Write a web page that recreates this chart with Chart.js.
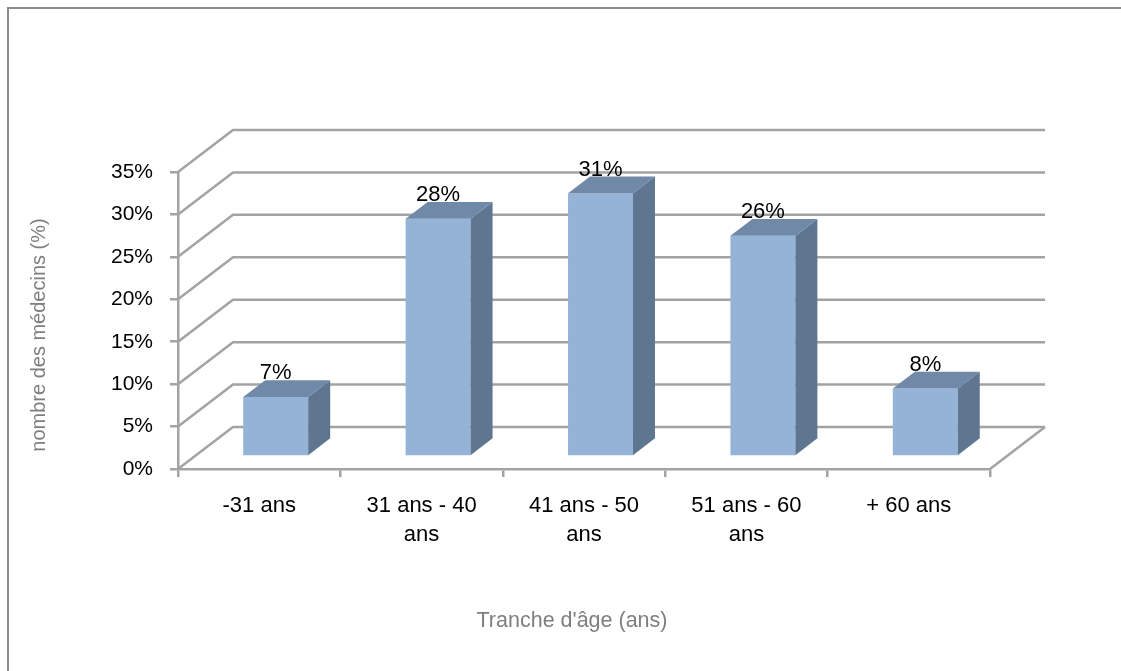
<!DOCTYPE html>
<html>
<head>
<meta charset="utf-8">
<script src="https://cdn.jsdelivr.net/npm/chart.js@4"></script>
<style>
  html, body { margin: 0; padding: 0; background: #ffffff; }
  canvas { display: block; }
</style>
</head>
<body>
<canvas id="chart" width="1121" height="671"></canvas>
<script>
// Age groups (wrapped the way they are printed under the axis)
const categories = [
  '-31 ans',
  ['31 ans - 40', 'ans'],
  ['41 ans - 50', 'ans'],
  ['51 ans - 60', 'ans'],
  '+ 60 ans'
];
// Share of doctors per age group, in percent
const values = [7, 28, 31, 26, 8];
// Value axis ticks, in percent
const yTicks = [0, 5, 10, 15, 20, 25, 30, 35];

const yTitle = 'nombre des médecins (%)';
const xTitle = "Tranche d'âge (ans)";

const FONT = '"Liberation Sans", Arial, sans-serif';
const GRID = '#a3a3a3';
const FRONT = '#95b3d7';
const TOP = '#7189a9';
const SIDE = '#5f7691';

// oblique projection of the back wall
const DEPTH = { dx: 55, dy: -42 };
const BAR_FRONT = 0.3;   // bars sit between 30% and 70% of the depth
const BAR_BACK = 0.7;

const box3d = {
  id: 'box3d',
  beforeDraw(chart) {
    const { ctx } = chart;
    ctx.save();
    ctx.fillStyle = '#ffffff';
    ctx.fillRect(0, 0, chart.width, chart.height);
    // frame around the chart
    ctx.strokeStyle = '#8c8c8c';
    ctx.lineWidth = 2;
    ctx.beginPath();
    ctx.moveTo(8, chart.height);
    ctx.lineTo(8, 8);
    ctx.lineTo(chart.width, 8);
    ctx.stroke();
    ctx.restore();
  },
  beforeDatasetsDraw(chart) {
    const { ctx, chartArea: a, scales: { y } } = chart;
    ctx.save();
    ctx.strokeStyle = GRID;
    ctx.lineWidth = 2.5;
    ctx.lineJoin = 'round';
    y.ticks.forEach(t => {
      const py = y.getPixelForValue(t.value);
      ctx.beginPath();
      ctx.moveTo(a.left, py);
      ctx.lineTo(a.left + DEPTH.dx, py + DEPTH.dy);
      ctx.lineTo(a.right + DEPTH.dx, py + DEPTH.dy);
      ctx.stroke();
    });
    // right edge of the floor
    ctx.beginPath();
    ctx.moveTo(a.right, a.bottom);
    ctx.lineTo(a.right + DEPTH.dx, a.bottom + DEPTH.dy);
    ctx.stroke();
    ctx.restore();
  },
  beforeDatasetDraw(chart) {
    chart.ctx.save();
    chart.ctx.translate(DEPTH.dx * BAR_FRONT, DEPTH.dy * BAR_FRONT);
  },
  afterDatasetDraw(chart) {
    chart.ctx.restore();
  },
  afterDatasetsDraw(chart) {
    const { ctx } = chart;
    const ox = DEPTH.dx * BAR_FRONT, oy = DEPTH.dy * BAR_FRONT;
    const bx = DEPTH.dx * (BAR_BACK - BAR_FRONT), by = DEPTH.dy * (BAR_BACK - BAR_FRONT);
    const meta = chart.getDatasetMeta(0);
    ctx.save();
    meta.data.forEach((bar, i) => {
      const p = bar.getProps(['x', 'y', 'base', 'width'], true);
      const l = p.x - p.width / 2 + ox, r = p.x + p.width / 2 + ox;
      const t = p.y + oy, b = p.base + oy;
      // side face
      ctx.fillStyle = SIDE;
      ctx.beginPath();
      ctx.moveTo(r, t);
      ctx.lineTo(r + bx, t + by);
      ctx.lineTo(r + bx, b + by);
      ctx.lineTo(r, b);
      ctx.closePath();
      ctx.fill();
      // top face
      ctx.fillStyle = TOP;
      ctx.beginPath();
      ctx.moveTo(l, t);
      ctx.lineTo(l + bx, t + by);
      ctx.lineTo(r + bx, t + by);
      ctx.lineTo(r, t);
      ctx.closePath();
      ctx.fill();
      // value label
      ctx.fillStyle = '#000000';
      ctx.font = '22px ' + FONT;
      ctx.textAlign = 'center';
      ctx.textBaseline = 'alphabetic';
      ctx.fillText(values[i] + '%', p.x + ox, t + by - 1);
    });
    // axis titles
    ctx.fillStyle = '#7f7f7f';
    ctx.font = '21.5px ' + FONT;
    ctx.textAlign = 'center';
    ctx.textBaseline = 'middle';
    ctx.fillText(xTitle, 572, 621);
    ctx.translate(39, 335);
    ctx.rotate(-Math.PI / 2);
    ctx.font = '20px ' + FONT;
    ctx.fillText(yTitle, 0, 0);
    ctx.restore();
  }
};

new Chart(document.getElementById('chart'), {
  type: 'bar',
  data: {
    labels: categories,
    datasets: [{
      data: values,
      backgroundColor: FRONT,
      borderWidth: 0,
      barPercentage: 0.4,
      categoryPercentage: 1,
      clip: false
    }]
  },
  plugins: [box3d],
  options: {
    responsive: false,
    devicePixelRatio: 1,
    animation: false,
    events: [],
    layout: { padding: { left: 23, top: 172, right: 131, bottom: 31 } },
    plugins: { legend: { display: false }, tooltip: { enabled: false } },
    scales: {
      x: {
        afterFit(s) { s.height = 171; },
        grid: { drawOnChartArea: false, offset: true, tickLength: 8, color: GRID, lineWidth: 2.5 },
        border: { display: true, color: GRID, width: 2.5 },
        ticks: { color: '#000000', font: { family: FONT, size: 22, lineHeight: 1.3 }, padding: 15, maxRotation: 0, autoSkip: false }
      },
      y: {
        min: 0,
        max: 35,
        afterFit(s) { s.width = 155; },
        afterBuildTicks(s) { s.ticks = yTicks.map(v => ({ value: v })); },
        grid: { drawOnChartArea: false, tickLength: 8, color: GRID, lineWidth: 2.5 },
        border: { display: true, color: GRID, width: 2.5 },
        ticks: { color: '#000000', font: { family: FONT, size: 21 }, padding: 17, callback: v => v + '%' }
      }
    }
  }
});
</script>
</body>
</html>
